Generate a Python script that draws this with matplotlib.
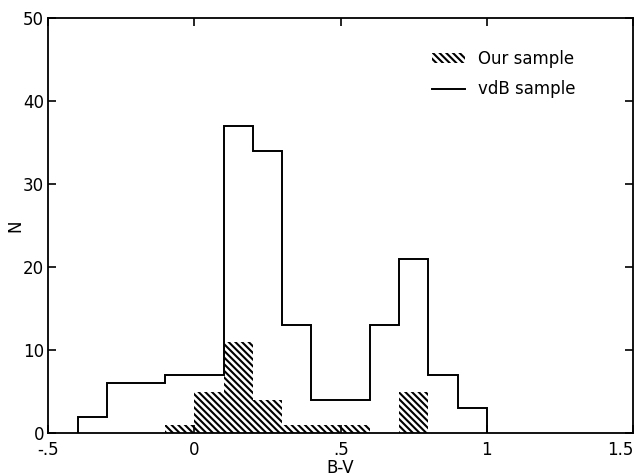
from matplotlib import pyplot as plt
from matplotlib.patches import Patch
from matplotlib.lines import Line2D
import numpy as np

# bin edges in B-V (width 0.1)
vdb_edges = [-0.4, -0.3, -0.2, -0.1, 0.0, 0.1, 0.2, 0.3, 0.4, 0.5, 0.6, 0.7, 0.8, 0.9, 1.0]
vdb_counts = [2, 6, 6, 7, 7, 37, 34, 13, 4, 4, 13, 21, 7, 3]

our_left = [-0.1, 0.0, 0.1, 0.2, 0.3, 0.4, 0.5, 0.7]
our_counts = [1, 5, 11, 4, 1, 1, 1, 5]

x_ticks = [-0.5, 0, 0.5, 1, 1.5]
x_labels = ['-.5', '0', '.5', '1', '1.5']
y_ticks = [0, 10, 20, 30, 40, 50]

plt.rcParams['hatch.linewidth'] = 1.5
plt.rcParams['font.family'] = ['DejaVu Sans']

hatch = '\\' * 5

fig = plt.figure(figsize=(6.35, 4.76), dpi=100)
ax = fig.add_axes([0.076, 0.09, 0.921, 0.872])

ax.bar(our_left, our_counts, width=0.1, align='edge', facecolor='none',
       edgecolor='black', linewidth=0, hatch=hatch)
ax.stairs(vdb_counts, vdb_edges, baseline=0, color='black', linewidth=1.4)

ax.set_xlim(-0.5, 1.5)
ax.set_ylim(0, 50)
ax.set_xticks(x_ticks)
ax.set_xticklabels(x_labels)
ax.set_yticks(y_ticks)
ax.tick_params(direction='in', length=6, width=1.2, top=True, right=True,
               labelsize=12)
ax.tick_params(axis='x', pad=6)
ax.tick_params(axis='y', pad=3)
labels = ax.get_xticklabels()
labels[-1].set_ha('right')
for s in ax.spines.values():
    s.set_linewidth(1.3)

ax.set_xlabel('B-V', fontsize=12, labelpad=0)
ax.xaxis.set_label_coords(0.5, -0.062)
ax.set_ylabel('N', fontsize=12)
ax.yaxis.set_label_coords(-0.04, 0.5)

handles = [Patch(facecolor='none', edgecolor='black', linewidth=0, hatch=hatch),
           Line2D([], [], color='black', linewidth=1.4)]
ax.legend(handles, ['Our sample', 'vdB sample'], loc='upper left',
          bbox_to_anchor=(0.63, 0.96), frameon=False, fontsize=12,
          handlelength=2.0, handleheight=0.5, labelspacing=0.75)

plt.savefig('out.png')
